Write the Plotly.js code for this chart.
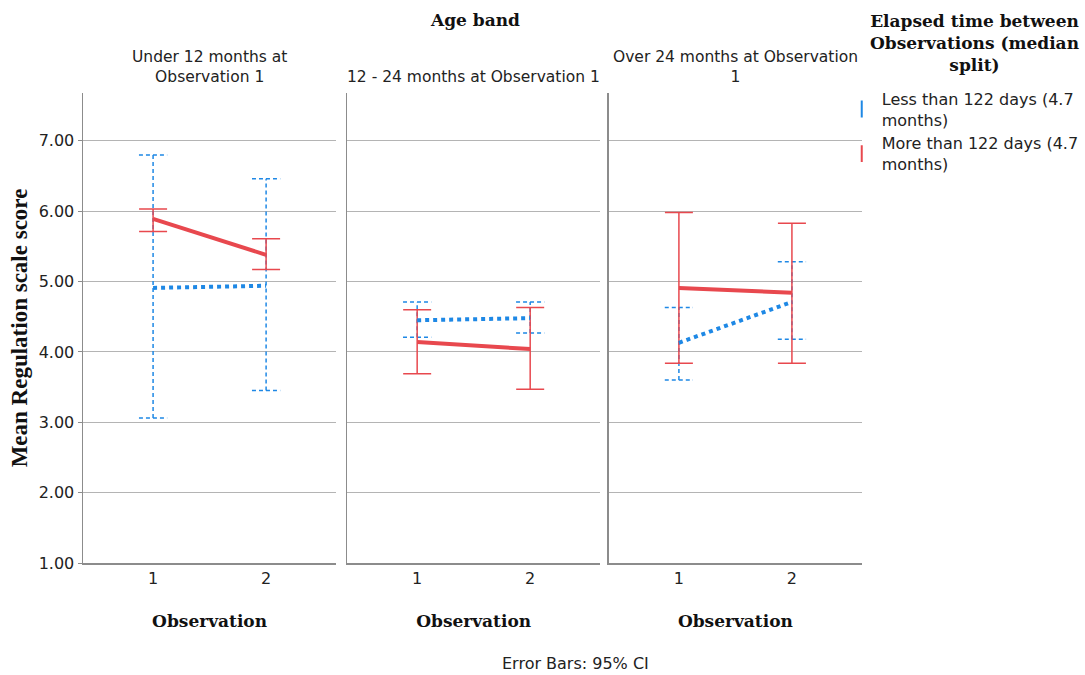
<!DOCTYPE html>
<html>
<head>
<meta charset="utf-8">
<script src="https://cdn.plot.ly/plotly-3.0.1.min.js"></script>
<style>html,body{margin:0;padding:0;background:#fff;}#chart{width:1085px;height:675px;}</style>
</head>
<body>
<div id="chart"></div>
<script>
// ---- data ----
const observations = [1, 2];
const panelTitles = ["Under 12 months at<br>Observation 1", "12 - 24 months at Observation 1", "Over 24 months at Observation<br>1"];
const seriesNames = ["Less than 122 days (4.7<br>months)", "More than 122 days (4.7<br>months)"];
// Less than 122 days: per panel [obs1, obs2]
const lessMean = [[4.91, 4.94], [4.45, 4.48], [4.13, 4.71]];
const lessHigh = [[6.80, 6.46], [4.71, 4.71], [4.63, 5.28]];
const lessLow  = [[3.06, 3.45], [4.21, 4.27], [3.60, 4.18]];
// More than 122 days
const moreMean = [[5.89, 5.38], [4.14, 4.04], [4.91, 4.84]];
const moreHigh = [[6.03, 5.61], [4.60, 4.63], [5.98, 5.83]];
const moreLow  = [[5.71, 5.17], [3.69, 3.47], [3.84, 3.84]];
const yTicks = [1, 2, 3, 4, 5, 6, 7];

// ---- style ----
const BLUE = '#1E88E5';
const RED = '#E8484E';
const AXIS = '#8c8c8c';
const GRID = '#b4b4b4';
const SANS = 'DejaVu Sans, Arial, sans-serif';
const SERIF_W = 'DejaVu Serif, serif';
const SERIF_N = 'Liberation Serif, Times New Roman, serif';
const CAP = 0.125;

const traces = [];
for (let p = 0; p < 3; p++) {
  const xa = p === 0 ? 'x' : 'x' + (p + 1);
  const ya = p === 0 ? 'y' : 'y' + (p + 1);
  // dashed CI bars for "less" series
  const ex = [], ey = [];
  observations.forEach((o, i) => {
    const lo = lessLow[p][i], hi = lessHigh[p][i];
    ex.push(o, o, null, o - CAP, o + CAP, null, o - CAP, o + CAP, null);
    ey.push(lo, hi, null, hi, hi, null, lo, lo, null);
  });
  traces.push({x: ex, y: ey, xaxis: xa, yaxis: ya, mode: 'lines', showlegend: false, hoverinfo: 'skip',
    line: {color: BLUE, width: 1.5, dash: '4px,3px'}});
  // red mean line with solid CI bars
  traces.push({x: observations, y: moreMean[p], xaxis: xa, yaxis: ya, mode: 'lines', showlegend: false,
    name: seriesNames[1], line: {color: RED, width: 4},
    error_y: {type: 'data', symmetric: false,
      array: moreHigh[p].map((h, i) => h - moreMean[p][i]),
      arrayminus: moreLow[p].map((l, i) => moreMean[p][i] - l),
      color: RED, thickness: 1.5, width: 14}});
  // blue mean dotted line
  traces.push({x: observations, y: lessMean[p], xaxis: xa, yaxis: ya, mode: 'lines', showlegend: false,
    name: seriesNames[0], line: {color: BLUE, width: 4, dash: 'dot'}});
}
// legend entries
traces.push({x: [null], y: [null], mode: 'markers', name: seriesNames[0], showlegend: true,
  marker: {symbol: 'line-ns-open', size: 12, color: BLUE, line: {color: BLUE, width: 2}}});
traces.push({x: [null], y: [null], mode: 'markers', name: seriesNames[1], showlegend: true,
  marker: {symbol: 'line-ns-open', size: 12, color: RED, line: {color: RED, width: 2}}});

const domains = [[0, 0.325], [0.339, 0.664], [0.675, 1]];
const layout = {
  width: 1085, height: 675,
  margin: {l: 83, r: 223, t: 93, b: 112, autoexpand: false},
  paper_bgcolor: '#fff', plot_bgcolor: '#fff',
  showlegend: true,
  legend: {x: 0.974, xanchor: 'left', y: 1.024, yanchor: 'top', itemwidth: 30,
    bgcolor: 'rgba(0,0,0,0)',
    font: {family: SANS, size: 16, color: '#222'}, tracegroupgap: 0},
  annotations: [
    {text: 'Age band', xref: 'paper', yref: 'paper', x: 0.503, y: 1.155, xanchor: 'center', yanchor: 'middle',
      showarrow: false, font: {family: SERIF_W, size: 17, color: '#111', weight: 'bold'}},
    {text: 'Elapsed time between<br>Observations (median<br>split)', xref: 'paper', yref: 'paper',
      x: 1.145, y: 1.106, xanchor: 'center', yanchor: 'middle', showarrow: false, align: 'center',
      font: {family: SERIF_W, size: 17, color: '#111', weight: 'bold'}},
    {text: 'Error Bars: 95% CI', xref: 'paper', yref: 'paper', x: 0.632, y: -0.213,
      xanchor: 'center', yanchor: 'middle', showarrow: false,
      font: {family: SANS, size: 16, color: '#222'}}
  ]
};
for (let p = 0; p < 3; p++) {
  const sfx = p === 0 ? '' : String(p + 1);
  layout['xaxis' + sfx] = {domain: domains[p], anchor: 'y' + sfx, range: [0.38, 2.62],
    tickvals: observations, ticktext: observations.map(String), showgrid: false, zeroline: false,
    showline: true, linecolor: AXIS, linewidth: 1.5, ticks: '',
    tickfont: {family: SANS, size: 16, color: '#222'},
    title: {text: 'Observation', standoff: 28, font: {family: SERIF_W, size: 17, color: '#111', weight: 'bold'}}};
  layout['yaxis' + sfx] = {anchor: 'x' + sfx, range: [1, 7.68], tickvals: yTicks,
    ticktext: yTicks.map(v => v.toFixed(2)), showgrid: true, gridcolor: GRID, gridwidth: 1,
    zeroline: false, showline: true, linecolor: AXIS, linewidth: 1.5,
    ticks: p === 0 ? 'outside' : '', ticklen: 4, tickcolor: AXIS,
    showticklabels: p === 0, tickfont: {family: SANS, size: 16, color: '#222'}};
  if (p > 0) layout['yaxis' + sfx].matches = 'y';
  layout.annotations.push({text: panelTitles[p], xref: 'paper', yref: 'paper',
    x: (domains[p][0] + domains[p][1]) / 2, y: 1, xanchor: 'center', yanchor: 'bottom', yshift: 5,
    showarrow: false, font: {family: SANS, size: 15.5, color: '#222'}});
}
layout.yaxis.title = {text: 'Mean Regulation scale score', standoff: 4,
  font: {family: SERIF_N, size: 23, color: '#111', weight: 'bold'}};

Plotly.newPlot('chart', traces, layout, {displayModeBar: false, staticPlot: true});
</script>
</body>
</html>
